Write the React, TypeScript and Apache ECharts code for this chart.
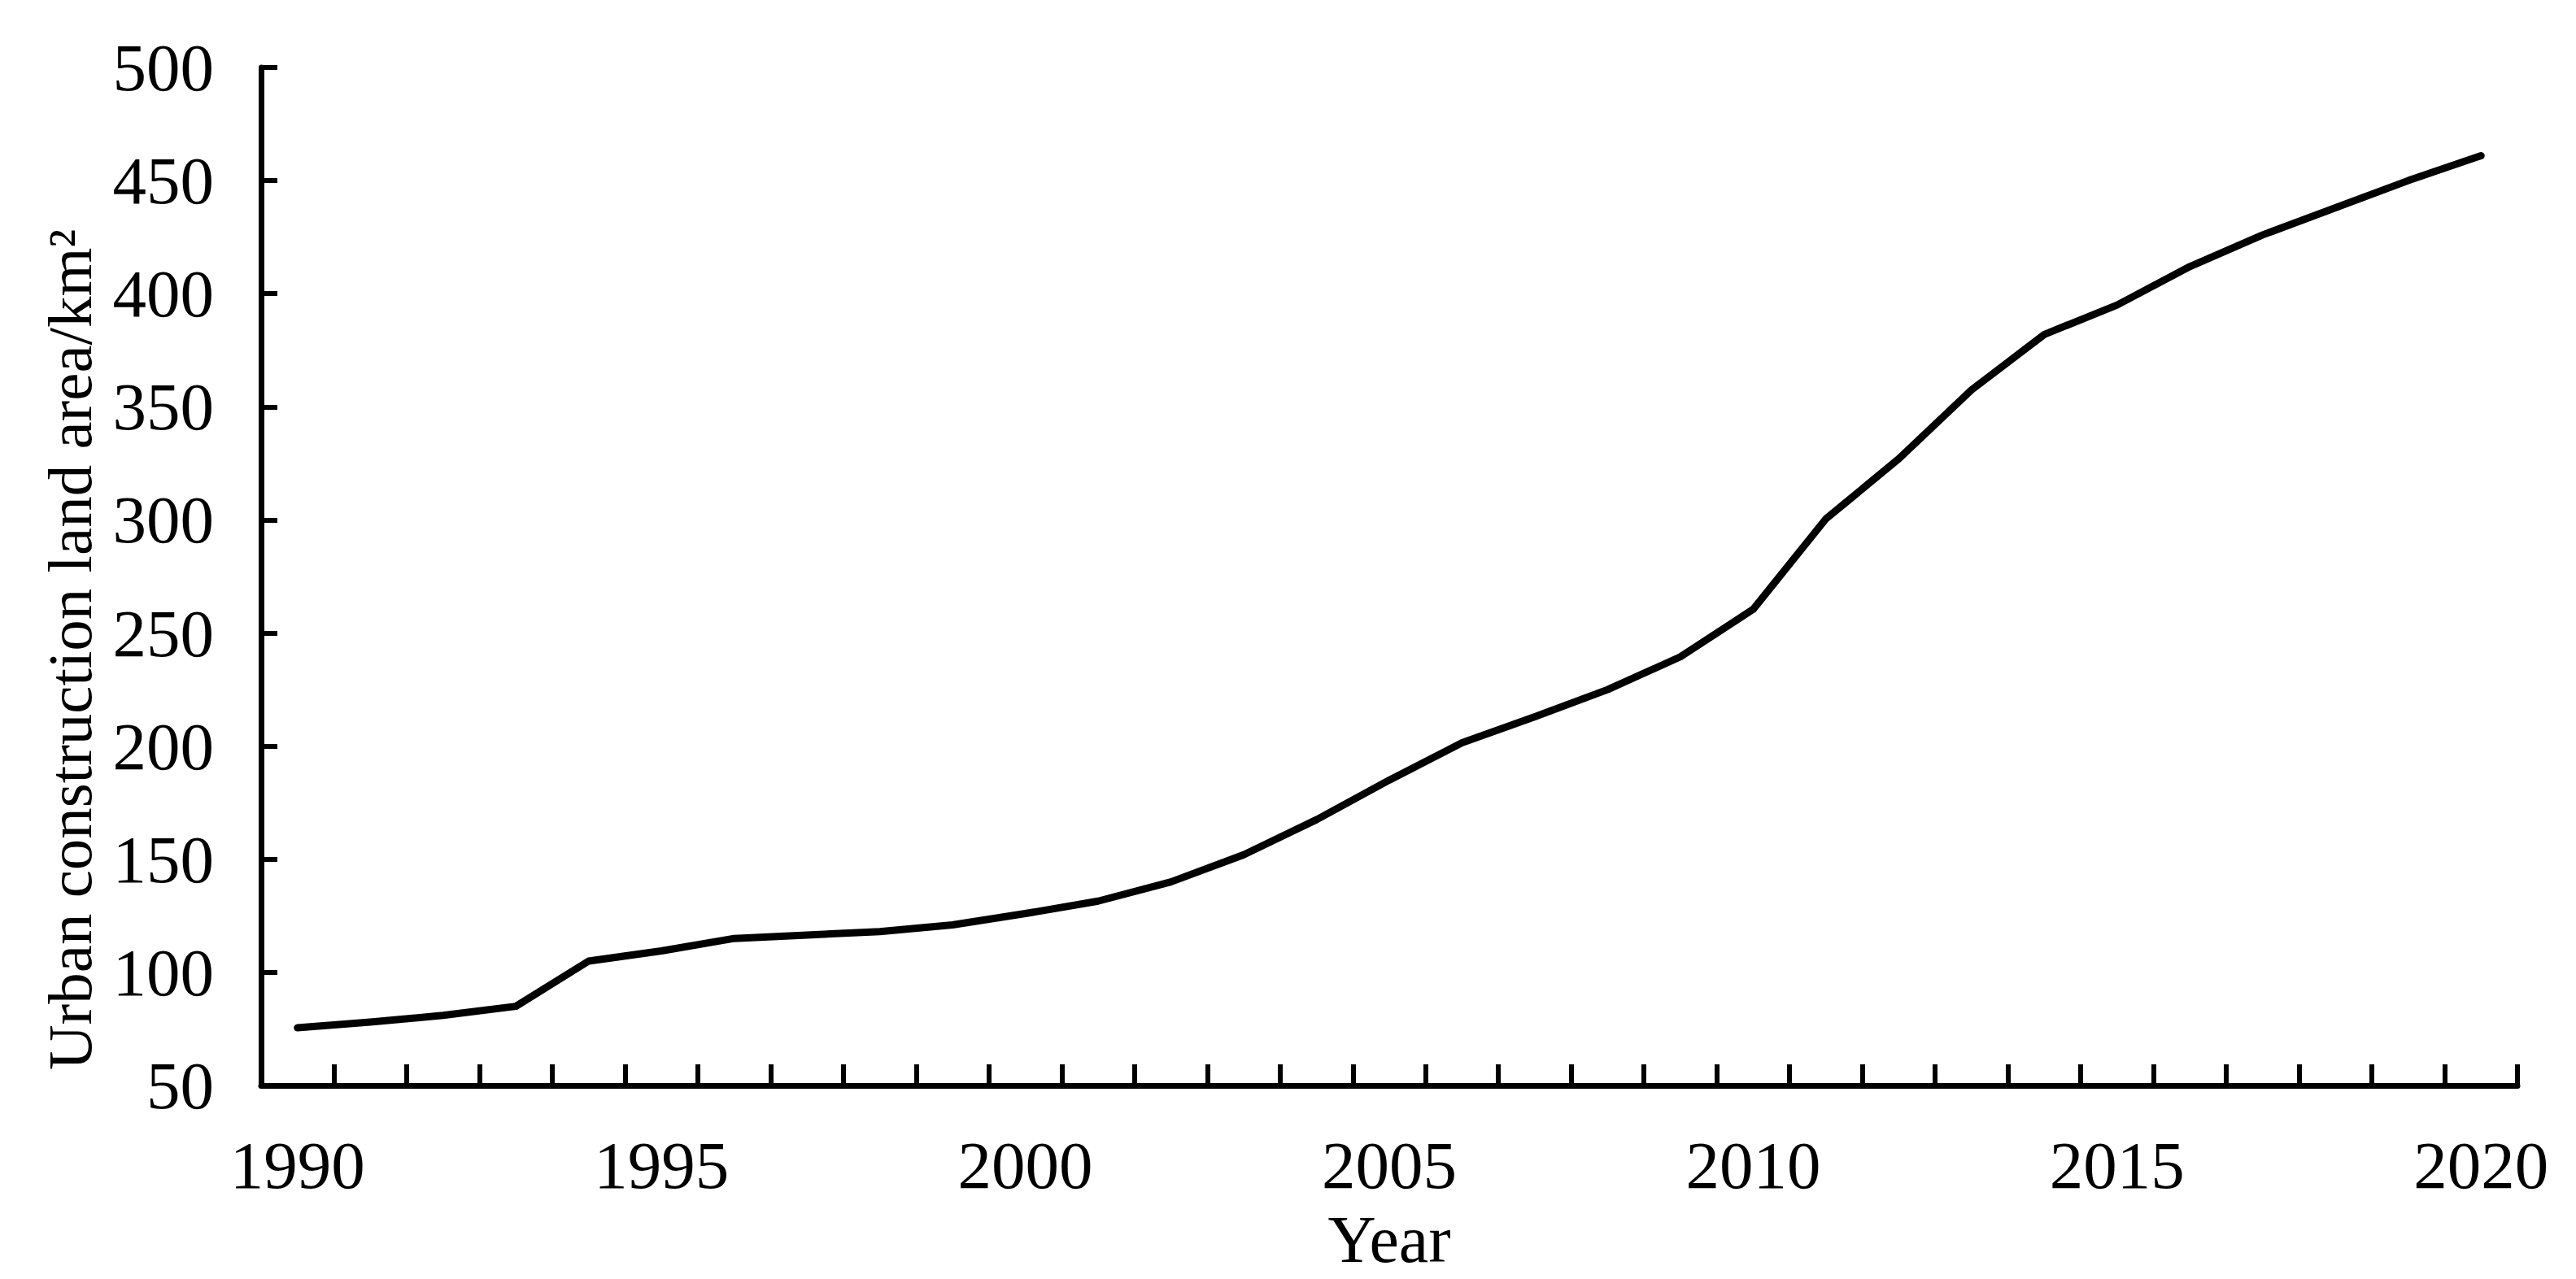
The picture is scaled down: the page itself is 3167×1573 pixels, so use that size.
import React, { useEffect, useRef } from "react";
import * as echarts from "echarts";

const years: string[] = [
  "1990","1991","1992","1993","1994","1995","1996","1997","1998","1999",
  "2000","2001","2002","2003","2004","2005","2006","2007","2008","2009",
  "2010","2011","2012","2013","2014","2015","2016","2017","2018","2019","2020",
];
const landArea: number[] = [
  75.5, 78, 81, 85, 105, 109.5, 115, 116.5, 118, 121,
  126, 131.5, 140, 152, 167.5, 185, 201.5, 213, 225, 239.5,
  260.5, 300.5, 327, 357.5, 382, 395, 412, 426, 438, 450, 461,
];
const yTicks = { min: 50, max: 500, interval: 50 };
const yAxisTitle = "Urban construction land area/km²";
const xAxisTitle = "Year";

const FONT = "'Liberation Serif', 'Times New Roman', serif";

export default function App() {
  const ref = useRef<HTMLDivElement>(null);
  useEffect(() => {
    document.body.style.margin = "0";
    const chart = echarts.init(ref.current!, null, { renderer: "svg" });
    chart.setOption({
      animation: false,
      backgroundColor: "#ffffff",
      grid: { left: 321, right: 72, top: 83, bottom: 238, containLabel: false },
      xAxis: {
        type: "category",
        data: years,
        boundaryGap: true,
        name: xAxisTitle,
        nameLocation: "middle",
        nameGap: 148,
        nameTextStyle: { fontFamily: FONT, fontSize: 82, color: "#000" },
        axisLine: { show: true, lineStyle: { color: "#000", width: 7 } },
        axisTick: { show: true, inside: true, length: 26, interval: 0, alignWithLabel: false, lineStyle: { color: "#000", width: 6 } },
        axisLabel: { interval: 4, margin: 56, fontFamily: FONT, fontSize: 83, color: "#000" },
        splitLine: { show: false },
      },
      yAxis: {
        type: "value",
        min: yTicks.min,
        max: yTicks.max,
        interval: yTicks.interval,
        axisLine: { show: true, lineStyle: { color: "#000", width: 7 } },
        axisTick: { show: true, inside: true, length: 20, lineStyle: { color: "#000", width: 6 } },
        axisLabel: { margin: 58, fontFamily: FONT, fontSize: 83, color: "#000" },
        splitLine: { show: false },
      },
      graphic: [
        {
          type: "text",
          x: 86,
          y: 1316,
          rotation: Math.PI / 2,
          style: {
            text: yAxisTitle,
            fontFamily: FONT,
            fontSize: 77,
            fill: "#000",
            textAlign: "left",
            textVerticalAlign: "middle",
          },
        },
      ],
      series: [
        {
          type: "line",
          data: landArea,
          symbol: "none",
          lineStyle: { color: "#000", width: 9, cap: "round", join: "round" },
        },
      ],
    });
    return () => chart.dispose();
  }, []);
  return (
    <div
      ref={ref}
      style={{ position: "absolute", left: 0, top: 0, width: 3167, height: 1573 }}
    />
  );
}
